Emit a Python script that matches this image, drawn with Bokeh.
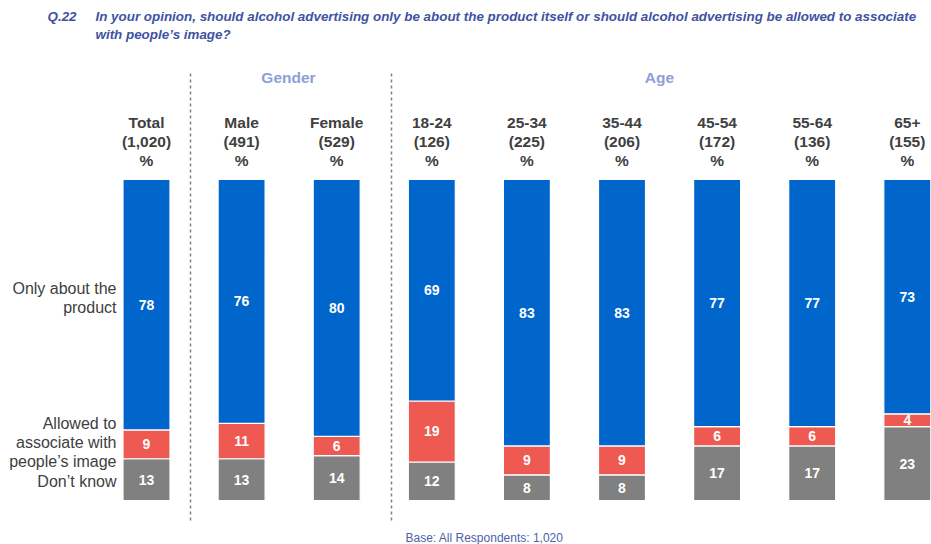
from bokeh.plotting import figure
from bokeh.models import Range1d
from bokeh.embed import file_html
from bokeh.resources import INLINE
from bokeh.core.properties import value

# ---- data ----
groups = ["Total", "Male", "Female", "18-24", "25-34", "35-44", "45-54", "55-64", "65+"]
bases = ["1,020", "491", "529", "126", "225", "206", "172", "136", "155"]
only_product = [78, 76, 80, 69, 83, 83, 77, 77, 73]
allowed = [9, 11, 6, 19, 9, 9, 6, 6, 4]
dont_know = [13, 13, 14, 12, 8, 8, 17, 17, 23]
row_labels = [["Only about the", "product"],
              ["Allowed to", "associate with", "people\u2019s image"],
              ["Don\u2019t know"]]
title_lines = ["In your opinion, should alcohol advertising only be about the product itself or should alcohol advertising be allowed to associate",
               "with people\u2019s image?"]
qnum = "Q.22"
footnote = "Base:  All Respondents: 1,020"

# ---- layout ----
W, H = 931, 544
XPX = 95.1      # px per group
YPX = 3.21      # px per percentage point
X0 = 146        # px of first group centre inside the figure
Y0 = 500        # px (from top) of zero line

def rx(px):
    return (px - 146) / XPX

def ry(py):
    return (500 - py) / YPX

p = figure(width=W, height=H, output_backend="svg", toolbar_location=None,
           x_range=Range1d(-X0 / XPX, (W - X0) / XPX),
           y_range=Range1d(-(H - Y0) / YPX, Y0 / YPX),
           min_border=0)
p.axis.visible = False
p.grid.visible = False
p.outline_line_color = None
p.background_fill_color = "white"

FONT = value("Liberation Sans")
BLUE, RED, GREY = "#0066CC", "#EE5A52", "#808080"
DARK = "#404040"

idx = list(range(len(groups)))
b1 = [0] * len(groups)
t1 = dont_know
t2 = [a + b for a, b in zip(dont_know, allowed)]
t3 = [a + b for a, b in zip(t2, only_product)]

bw = 47 / XPX
p.vbar(x=idx, width=bw, bottom=b1, top=t1, fill_color=GREY, line_color="white", line_width=1.2)
p.vbar(x=idx, width=bw, bottom=t1, top=t2, fill_color=RED, line_color="white", line_width=1.2)
p.vbar(x=idx, width=bw, bottom=t2, top=t3, fill_color=BLUE, line_color="white", line_width=1.2)

def seg_labels(bot, top, vals):
    p.text(x=idx, y=[(a + b) / 2 for a, b in zip(bot, top)], text=[str(v) for v in vals],
           text_color="white", text_font=FONT, text_font_style="bold", text_font_size="14px",
           text_align="center", text_baseline="middle")

seg_labels(b1, t1, dont_know)
seg_labels(t1, t2, allowed)
seg_labels(t2, t3, only_product)

# column headers
for line_y, texts in [(122, groups), (141, ["(%s)" % b for b in bases]), (160, ["%"] * len(groups))]:
    p.text(x=idx, y=[ry(line_y)] * len(groups), text=texts, text_color=DARK, text_font=FONT,
           text_font_style="bold", text_font_size="15.5px", text_align="center", text_baseline="middle")

# group headers
p.text(x=[rx(288), rx(659)], y=[ry(77)] * 2, text=["Gender", "Age"], text_color="#8E9ED6",
       text_font=FONT, text_font_style="bold", text_font_size="15.5px",
       text_align="center", text_baseline="middle")

# dashed separators
p.segment(x0=[rx(190), rx(391)], y0=[ry(73)] * 2, x1=[rx(190), rx(391)], y1=[ry(520)] * 2,
          line_color="#808080", line_width=1.5, line_dash="3 3")

# row labels
row_y = [[288, 307], [423, 442, 461], [481]]
xs, ys, ts = [], [], []
for lines, yy in zip(row_labels, row_y):
    for t, y in zip(lines, yy):
        xs.append(rx(116)); ys.append(ry(y)); ts.append(t)
p.text(x=xs, y=ys, text=ts, text_color=DARK, text_font=FONT, text_font_size="16px",
       text_align="right", text_baseline="middle")

# title
TCOL = "#4152A3"
p.text(x=[rx(47)], y=[ry(16)], text=[qnum], text_color=TCOL, text_font=FONT,
       text_font_style="bold italic", text_font_size="13.4px", text_align="left", text_baseline="middle")
p.text(x=[rx(95)] * 2, y=[ry(16), ry(34)], text=title_lines, text_color=TCOL, text_font=FONT,
       text_font_style="bold italic", text_font_size="13.4px", text_align="left", text_baseline="middle")

# footnote
p.text(x=[rx(405)], y=[ry(537)], text=[footnote], text_color="#4F5FA8", text_font=FONT,
       text_font_size="12px", text_align="left", text_baseline="middle")

open("out.html", "w").write(file_html(p, INLINE))
